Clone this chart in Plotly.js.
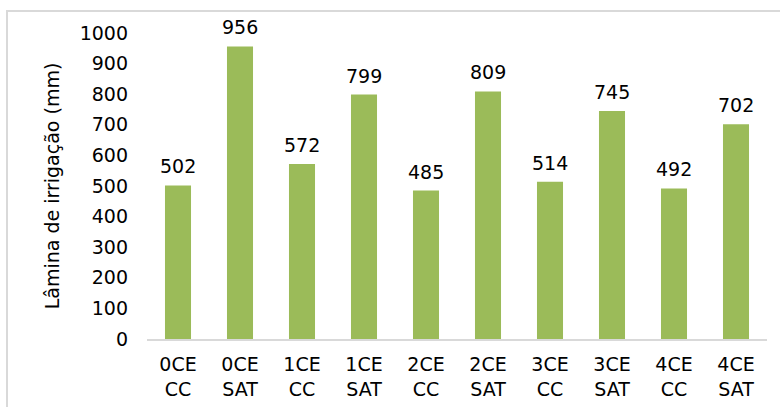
<!DOCTYPE html>
<html>
<head>
<meta charset="utf-8">
<script src="https://cdn.plot.ly/plotly-3.0.1.min.js"></script>
<style>
html,body{margin:0;padding:0;background:#fff;overflow:hidden;}
#chart{width:780px;height:407px;}
</style>
</head>
<body>
<div id="chart"></div>
<script>
const categories = ["0CE<br>CC","0CE<br>SAT","1CE<br>CC","1CE<br>SAT","2CE<br>CC","2CE<br>SAT","3CE<br>CC","3CE<br>SAT","4CE<br>CC","4CE<br>SAT"];
const values = [502, 956, 572, 799, 485, 809, 514, 745, 492, 702];
const yTickValues = [0,100,200,300,400,500,600,700,800,900,1000];

const FONT = "DejaVu Sans, Liberation Sans, Arial, sans-serif";

const trace = {
  type: "bar",
  x: categories,
  y: values,
  marker: {color: "#9BBB59"},
  hoverinfo: "x+y"
};

const annotations = categories.map((c, i) => ({
  x: c, y: values[i], xref: "x", yref: "y",
  text: String(values[i]),
  showarrow: false, yanchor: "bottom", yshift: 6,
  font: {family: FONT, size: 19, color: "#000"}
}));

const layout = {
  width: 780, height: 407,
  margin: {l: 147, r: 13, t: 33, b: 68, pad: 0},
  paper_bgcolor: "#fff", plot_bgcolor: "#fff",
  bargap: 0.58,
  showlegend: false,
  font: {family: FONT, size: 19, color: "#000"},
  xaxis: {
    type: "category",
    showgrid: false,
    showline: true, linecolor: "#D9D9D9", linewidth: 1.5,
    ticks: "", tickfont: {family: FONT, size: 19, color: "#000"},
    ticklabelstandoff: 8,
    fixedrange: true
  },
  yaxis: {
    range: [0, 1000],
    tickvals: yTickValues,
    ticktext: yTickValues.map(String),
    showgrid: false, zeroline: false, showline: false,
    ticks: "", tickfont: {family: FONT, size: 19, color: "#000"},
    ticklabelstandoff: 18,
    title: {text: "Lâmina de irrigação (mm)", font: {family: FONT, size: 19, color: "#000"}, standoff: 14},
    fixedrange: true
  },
  annotations: annotations,
  shapes: [{
    type: "rect", xref: "paper", yref: "paper",
    x0: -0.2258, x1: 1.05, y0: -0.3, y1: 1.0719,
    line: {color: "#D9D9D9", width: 2}, fillcolor: "rgba(0,0,0,0)", layer: "below"
  }]
};

Plotly.newPlot("chart", [trace], layout, {displayModeBar: false, staticPlot: true});
</script>
</body>
</html>
